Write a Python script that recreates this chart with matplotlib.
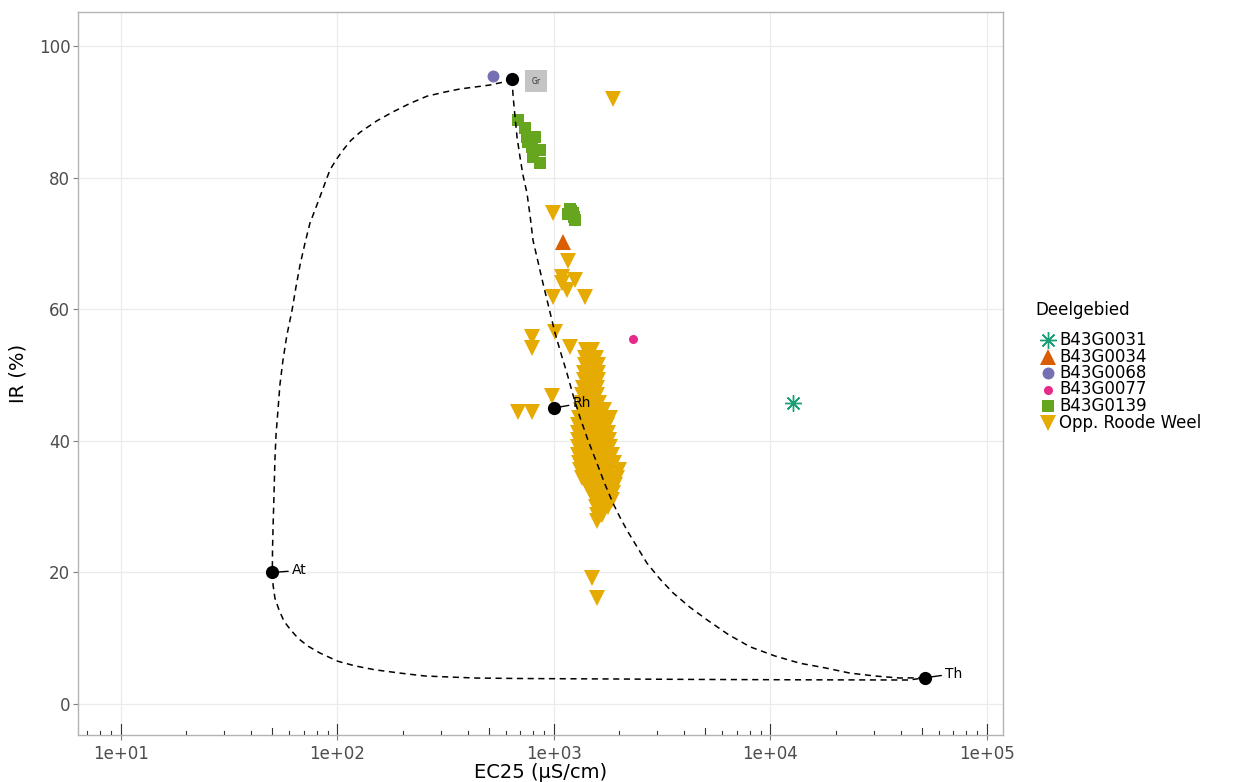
import numpy as np
import matplotlib
matplotlib.use('Agg')
import matplotlib.pyplot as plt

plt.rcParams['font.family'] = ['DejaVu Sans']

# --- data ---
# end members (EC25 in uS/cm, IR in %)
em_names = ['At', 'Gr', 'Rh', 'Th']
em_ec = [50, 640, 1000, 52000]
em_ir = [20, 95, 45, 4]

# mixing curves between end members
curve_gr_at_ec = [640, 575, 506, 432, 368, 310, 259, 216, 180, 151, 127, 115.5, 106, 98.4,
                  92.3, 87.6, 83.0, 78.7, 74.6, 70.8, 67.1, 64.3, 61.7, 58.4, 56.0, 54.2,
                  53.1, 52.0, 51.4, 50.9, 50.4, 50.1, 50]
curve_gr_at_ir = [95, 94.5, 94.1, 93.8, 93.5, 93.0, 92.4, 91.3, 90.0, 88.6, 86.9, 85.7, 84.2,
                  82.7, 81.2, 79.2, 77.1, 75.1, 73.1, 70.1, 66.7, 63.4, 59.9, 56.1, 52.3,
                  48.5, 44.7, 40.9, 37.1, 31.8, 26.9, 23.4, 20]
curve_at_th_ec = [50, 50.4, 51.4, 53.7, 56.6, 60.3, 65.7, 73.1, 83.0, 100.4, 120.4, 149,
                  194.5, 253.6, 330.8, 437, 697, 1000, 2017, 4385, 13690, 43600, 52000]
curve_at_th_ir = [20, 18.1, 16.1, 14.3, 12.6, 11.4, 10.0, 8.8, 7.75, 6.5, 5.8, 5.2, 4.7,
                  4.26, 4.1, 3.95, 3.88, 3.85, 3.8, 3.74, 3.68, 3.65, 4]
curve_gr_th_ec = [640, 647, 661, 675, 697, 719, 750, 775, 800, 844, 889, 948, 1011, 1077,
                  1148, 1224, 1318, 1436, 1580, 1720, 1875, 2017, 2175, 2418, 2690, 3088,
                  3546, 4249, 5090, 6364, 8040, 10490, 13680, 17850, 23270, 30390, 39600,
                  52000]
curve_gr_th_ir = [95, 92.5, 89.2, 86.2, 83.1, 80.4, 77.7, 74.3, 70.5, 67.2, 64.0, 60.2, 56.4,
                  53.3, 50.3, 47.0, 43.6, 40.1, 36.6, 33.4, 30.5, 28.4, 26.4, 23.9, 21.4,
                  19.0, 16.9, 14.7, 12.8, 10.6, 8.7, 7.3, 6.2, 5.5, 4.7, 4.26, 3.95, 4]

# samples per Deelgebied
b0031_ec, b0031_ir = [12700], [45.7]
b0034_ec, b0034_ir = [1100], [70.2]
b0068_ec, b0068_ir = [523], [95.4]
b0077_ec, b0077_ir = [2317], [55.5]
b0139_ec = [682, 735, 750, 817, 791, 861, 800, 861, 760, 1186, 1224, 1250, 1161, 1200, 1240]
b0139_ir = [88.8, 87.5, 86.2, 86.2, 84.7, 84.2, 83.1, 82.2, 85.5, 75.2, 74.6, 73.6, 74.5, 75.0, 74.0]

roode_single = [(1875, 91.9), (989, 74.6), (1161, 67.3), (1089, 64.9), (1250, 64.4),
                (1148, 62.9), (989, 61.9), (1390, 61.9), (1089, 64.0), (791, 55.8),
                (791, 54.1), (1012, 56.5), (1186, 54.3), (978, 46.8), (682, 44.4),
                (791, 44.4), (1498, 19.1), (1581, 16.1)]
roode_rows = [
    (53.8, [1405, 1450, 1500]),
    (52.6, [1391, 1440, 1500, 1560]),
    (51.5, [1391, 1440, 1490, 1550, 1600]),
    (50.3, [1380, 1430, 1480, 1540, 1600]),
    (49.2, [1370, 1420, 1470, 1530, 1600]),
    (48.0, [1360, 1410, 1460, 1520, 1580]),
    (47.0, [1340, 1400, 1460, 1520, 1580]),
    (45.8, [1340, 1400, 1470, 1540, 1620]),
    (44.7, [1330, 1390, 1460, 1530, 1610, 1700]),
    (43.5, [1300, 1370, 1440, 1520, 1610, 1700, 1814]),
    (42.4, [1291, 1360, 1430, 1510, 1600, 1680, 1760]),
    (41.2, [1291, 1350, 1420, 1500, 1580, 1670, 1780]),
    (40.1, [1291, 1350, 1420, 1500, 1590, 1690, 1795]),
    (39.0, [1291, 1360, 1440, 1520, 1610, 1710, 1820]),
    (37.8, [1291, 1360, 1440, 1520, 1610, 1720, 1850]),
    (36.7, [1305, 1380, 1460, 1550, 1650, 1760, 1900]),
    (35.6, [1319, 1400, 1480, 1570, 1670, 1790, 1996]),
    (34.4, [1350, 1430, 1520, 1610, 1720, 1840, 1950]),
    (33.3, [1420, 1500, 1590, 1690, 1800, 1920]),
    (32.1, [1480, 1560, 1650, 1750, 1880]),
    (31.0, [1547, 1620, 1700, 1853]),
    (29.9, [1560, 1620, 1700, 1780]),
    (28.7, [1580, 1630, 1667]),
    (27.8, [1580]),
]
roode_ec = [p[0] for p in roode_single] + [e for ir, ecs in roode_rows for e in ecs]
roode_ir = [p[1] for p in roode_single] + [ir for ir, ecs in roode_rows for e in ecs]

x_ticks = [1e1, 1e2, 1e3, 1e4, 1e5]
x_labels = ['1e+01', '1e+02', '1e+03', '1e+04', '1e+05']
y_ticks = [0, 20, 40, 60, 80, 100]

legend_labels = ['B43G0031', 'B43G0034', 'B43G0068', 'B43G0077', 'B43G0139', 'Opp. Roode Weel']

# Dark2 palette
c_teal, c_orange, c_purple, c_pink, c_green, c_yellow = (
    '#1B9E77', '#D95F02', '#7570B3', '#E7298A', '#66A61E', '#E6AB02')

# --- figure ---
fig = plt.figure(figsize=(12.51, 7.82), dpi=100)
ax = fig.add_axes([78 / 1251, 1 - 735 / 782, 925 / 1251, 723 / 782])

ax.set_xscale('log')
ax.set_xlim(10 ** 0.8014, 10 ** 5.074)
ax.set_ylim(-4.71, 105.2)

# points
ax.plot(roode_ec, roode_ir, 'v', color=c_yellow, ms=11.5, mew=0, zorder=3)
ax.plot(b0139_ec, b0139_ir, 's', color=c_green, ms=9, mew=0, zorder=3)
ax.plot(b0034_ec, b0034_ir, '^', color=c_orange, ms=11.5, mew=0, zorder=3)
ax.plot(b0068_ec, b0068_ir, 'o', color=c_purple, ms=8.6, mew=0, zorder=3)
ax.plot(b0077_ec, b0077_ir, 'o', color=c_pink, ms=6.5, mew=0, zorder=3)
ax.plot(b0031_ec, b0031_ir, marker=(8, 2, 0), ls='none', color=c_teal, ms=12, mew=1, zorder=3)

# mixing lines
for cx, cy in [(curve_gr_at_ec, curve_gr_at_ir), (curve_at_th_ec, curve_at_th_ir),
               (curve_gr_th_ec, curve_gr_th_ir)]:
    ax.plot(cx, cy, color='black', lw=1.1, ls=(0, (4, 3)), zorder=4)

# end members
ax.plot(em_ec, em_ir, 'o', color='black', ms=9.5, mew=0, zorder=5)
offsets = {'At': (20, 2), 'Rh': (19, 5), 'Th': (20, 4)}
for name, ec, ir in zip(em_names, em_ec, em_ir):
    if name == 'Gr':
        ax.annotate(name, (ec, ir), xytext=(24, -2), textcoords='offset pixels',
                    ha='center', va='center', fontsize=5.5, color='#333333', zorder=6,
                    bbox=dict(boxstyle='square,pad=0.8', fc='#C4C4C4', ec='none'))
    else:
        ax.annotate(name, (ec, ir), xytext=offsets[name], textcoords='offset pixels',
                    ha='left', va='center', fontsize=10, color='black', zorder=6,
                    arrowprops=dict(arrowstyle='-', color='black', lw=1,
                                    shrinkA=1, shrinkB=0))

# axes styling
ax.set_xticks(x_ticks)
ax.set_xticklabels(x_labels)
ax.xaxis.set_minor_locator(matplotlib.ticker.NullLocator())
ax.set_yticks(y_ticks)
ax.grid(True, color='#EBEBEB', lw=0.9)
ax.set_axisbelow(True)
for s in ax.spines.values():
    s.set_color('#B3B3B3')
    s.set_linewidth(1)
ax.tick_params(axis='both', colors='#7F7F7F', labelcolor='#4D4D4D', labelsize=12,
               length=3.5, width=0.8)
ax.tick_params(axis='x', pad=4)
ax.tick_params(axis='y', pad=2)

# log ticks along the bottom (inside)
trans = ax.get_xaxis_transform()
for dec in range(0, 6):
    for m in range(1, 10):
        v = m * 10.0 ** dec
        if v < ax.get_xlim()[0] or v > ax.get_xlim()[1]:
            continue
        h = 11 if m == 1 else (7 if m == 5 else 4)
        ax.plot([v, v], [0, h / 723], transform=trans, color='#333333', lw=0.8,
                zorder=2, clip_on=False)

ax.set_xlabel('EC25 (µS/cm)', fontsize=14, color='black', labelpad=0)
ax.set_ylabel('IR (%)', fontsize=14, color='black', labelpad=8)

# legend (drawn in figure pixel space)
lax = fig.add_axes([0, 0, 1, 1], facecolor='none')
lax.set_xlim(0, 1251)
lax.set_ylim(782, 0)
lax.axis('off')
lax.text(1035, 310, 'Deelgebied', fontsize=12, ha='left', va='center', color='black')
key_styles = [
    dict(marker=(8, 2, 0), color=c_teal, ms=12, mew=1),
    dict(marker='^', color=c_orange, ms=11, mew=0),
    dict(marker='o', color=c_purple, ms=8.6, mew=0),
    dict(marker='o', color=c_pink, ms=6.5, mew=0),
    dict(marker='s', color=c_green, ms=9, mew=0),
    dict(marker='v', color=c_yellow, ms=11, mew=0),
]
for i, (lab, st) in enumerate(zip(legend_labels, key_styles)):
    yy = 340 + i * 16.5
    lax.plot([1048], [yy], ls='none', **st)
    lax.text(1059, yy, lab, fontsize=12, ha='left', va='center', color='black')

fig.savefig('out.png', dpi=100)
